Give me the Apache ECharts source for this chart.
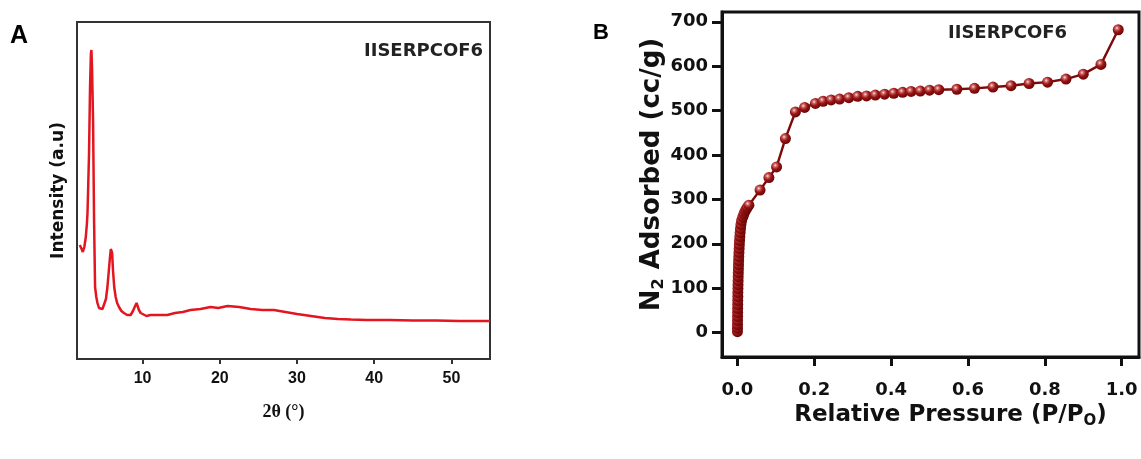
<!DOCTYPE html>
<html>
<head>
<meta charset="utf-8">
<script src="https://cdn.jsdelivr.net/npm/echarts@6/dist/echarts.min.js"></script>
<style>
  html, body { margin: 0; padding: 0; background: #fff; }
  #chart { width: 1141px; height: 459px; }
</style>
</head>
<body>
<div id="chart"></div>
<script>
// A: PXRD pattern (2θ in degrees, intensity in arbitrary units)
const xrdAngle = [1.86, 2.1, 2.25, 2.45, 2.64, 2.78, 2.86, 2.96, 3.06, 3.19, 3.3, 3.37, 3.45, 3.58, 3.71, 3.84, 4.0, 4.15, 4.35, 4.57,
  4.8, 5.0, 5.25, 5.44, 5.62, 5.74, 5.88, 5.96, 6.05, 6.16, 6.32, 6.51, 6.7, 6.94, 7.25, 7.58, 8.0, 8.45, 8.75, 8.97,
  9.22, 9.35, 9.52, 9.75, 9.96, 10.5, 11.0, 12.0, 13.2, 14.2, 15.2, 16.2, 17.5, 18.8, 19.8, 21.0, 22.5, 24.0, 25.5, 27.0,
  28.5, 30.0, 31.8, 33.6, 35.3, 37.0, 39.0, 42.0, 45.0, 48.0, 51.0, 55.0];
const xrdIntensity = [114, 110, 107, 112, 122, 135, 146, 175, 206, 272, 305, 309, 290, 239, 139, 72, 62, 56, 51, 49,
  50, 52, 60, 72, 88, 99, 110, 112, 106, 89, 72, 62, 56, 52, 48, 46, 44, 44, 48, 52,
  56, 54, 49, 46, 44, 43, 44, 44, 44, 46, 47, 49, 50, 52, 51, 53, 52, 50, 49, 49,
  47, 45, 43, 41, 40, 39.5, 39, 39, 38.5, 38.5, 38, 38];

// B: N2 adsorption isotherm (P/P0, cc/g)
const relPressure = [0.0002, 0.0003, 0.0004, 0.0005, 0.0006, 0.0007, 0.0008, 0.0009, 0.001, 0.0012, 0.0013, 0.0015, 0.0017, 0.0019,
  0.0021, 0.0024, 0.0027, 0.003, 0.0033, 0.0037, 0.0041, 0.0046, 0.0051, 0.0057, 0.0064, 0.0072, 0.0081, 0.0093, 0.011, 0.014,
  0.017, 0.02, 0.023, 0.026, 0.03, 0.059, 0.082, 0.102, 0.125, 0.151, 0.175, 0.203, 0.223, 0.244, 0.266, 0.29,
  0.313, 0.336, 0.359, 0.383, 0.407, 0.43, 0.452, 0.476, 0.5, 0.524, 0.571, 0.617, 0.665, 0.712, 0.759, 0.807,
  0.855, 0.9, 0.946, 0.991];
const adsorbed = [2, 10, 18, 27, 36, 45, 54, 63, 72, 81, 90, 99, 108, 117,
  126, 135, 144, 153, 162, 171, 180, 189, 198, 207, 216, 225, 234, 243, 252, 260,
  267, 273, 278, 282, 287, 321, 349, 373, 437, 497, 507, 516, 521, 524, 526, 529,
  532, 533, 535, 537, 539, 541, 543, 544, 546, 547, 548, 550, 553, 556, 561, 564,
  571, 582, 604, 682];

const xrdTicks = [10, 20, 30, 40, 50];
const pressureTicks = [0, 0.2, 0.4, 0.6, 0.8, 1.0];
const adsorbedTicks = [0, 100, 200, 300, 400, 500, 600, 700];
const sampleName = "IISERPCOF6";

const chart = echarts.init(document.getElementById("chart"));

// shaded ball markers
const ballColor = {
  type: "radial",
  x: 0.38,
  y: 0.35,
  r: 0.65,
  colorStops: [
    { offset: 0, color: "#fbe6e6" },
    { offset: 0.22, color: "#d06a6a" },
    { offset: 0.55, color: "#9a1414" },
    { offset: 1, color: "#6a0606" },
  ],
};

const option = {
  animation: false,
  grid: [
    { left: 77, top: 22, width: 413, height: 337, show: true, borderColor: "#333", borderWidth: 2, backgroundColor: "transparent" },
    { left: 722, top: 12, width: 417, height: 345, show: true, borderColor: "#111", borderWidth: 3, backgroundColor: "transparent" },
  ],
  xAxis: [
    {
      gridIndex: 0,
      type: "value",
      min: 1.5,
      max: 55,
      splitLine: { show: false },
      axisLine: { show: true, onZero: false, lineStyle: { color: "#333", width: 2 } },
      axisTick: { show: true, customValues: xrdTicks, length: 5, lineStyle: { color: "#333", width: 2 } },
      axisLabel: {
        customValues: xrdTicks,
        margin: 12,
        color: "#111",
        fontSize: 16,
        fontWeight: "bold",
        fontFamily: "Liberation Sans",
      },
      name: "2θ (°)",
      nameLocation: "middle",
      nameGap: 44,
      nameTextStyle: { color: "#111", fontSize: 18, fontWeight: "bold", fontFamily: "Liberation Serif" },
    },
    {
      gridIndex: 1,
      type: "value",
      min: -0.04,
      max: 1.045,
      splitLine: { show: false },
      axisLine: { show: true, onZero: false, lineStyle: { color: "#111", width: 3 } },
      axisTick: { show: true, customValues: pressureTicks, length: 9, lineStyle: { color: "#111", width: 3 } },
      axisLabel: {
        customValues: pressureTicks,
        formatter: (v) => v.toFixed(1),
        margin: 24,
        color: "#111",
        fontSize: 18,
        fontWeight: "bold",
        fontFamily: "DejaVu Sans",
      },
      name: "{m|Relative Pressure (P/P}{s|O}{m|)}",
      nameLocation: "middle",
      nameGap: 38,
      nameTextStyle: {
        padding: [0, 0, 0, 40],
        rich: {
          m: { color: "#111", fontSize: 23, fontWeight: "bold", fontFamily: "DejaVu Sans" },
          s: { color: "#111", fontSize: 15, fontWeight: "bold", fontFamily: "DejaVu Sans", padding: [12, 0, 0, 0] },
        },
      },
    },
  ],
  yAxis: [
    {
      gridIndex: 0,
      type: "value",
      min: 0,
      max: 337,
      splitLine: { show: false },
      axisLine: { show: true, onZero: false, lineStyle: { color: "#333", width: 2 } },
      axisTick: { show: false },
      axisLabel: { show: false },
      name: "Intensity (a.u)",
      nameLocation: "middle",
      nameGap: 10,
      nameTextStyle: { color: "#111", fontSize: 17, fontWeight: "bold", fontFamily: "DejaVu Sans", padding: [0, 0, 0, 0] },
    },
    {
      gridIndex: 1,
      type: "value",
      min: -55,
      max: 722,
      splitLine: { show: false },
      axisLine: { show: true, onZero: false, lineStyle: { color: "#111", width: 3 } },
      axisTick: { show: true, customValues: adsorbedTicks, length: 10, lineStyle: { color: "#111", width: 3 } },
      axisLabel: {
        customValues: adsorbedTicks,
        margin: 14,
        color: "#111",
        fontSize: 18,
        fontWeight: "bold",
        fontFamily: "DejaVu Sans",
      },
      name: "{m|N}{s|2}{m| Adsorbed (cc/g)}",
      nameLocation: "middle",
      nameGap: 55,
      nameTextStyle: {
        padding: [0, 0, 0, 20],
        rich: {
          m: { color: "#111", fontSize: 26, fontWeight: "bold", fontFamily: "DejaVu Sans" },
          s: { color: "#111", fontSize: 16, fontWeight: "bold", fontFamily: "DejaVu Sans", padding: [13, 0, 0, 0] },
        },
      },
    },
  ],
  graphic: [
    { type: "text", left: 10, top: 24, style: { text: "A", fontSize: 25, fontWeight: "bold", fontFamily: "Liberation Sans", fill: "#000" } },
    { type: "text", left: 593, top: 22, style: { text: "B", fontSize: 22, fontWeight: "bold", fontFamily: "Liberation Sans", fill: "#000" } },
    { type: "text", left: 364, top: 42, style: { text: sampleName, fontSize: 18, fontWeight: "bold", fontFamily: "DejaVu Sans", fill: "#222" } },
    { type: "text", left: 948, top: 24, style: { text: sampleName, fontSize: 18, fontWeight: "bold", fontFamily: "DejaVu Sans", fill: "#222" } },
  ],
  series: [
    {
      type: "line",
      xAxisIndex: 0,
      yAxisIndex: 0,
      data: xrdAngle.map((x, i) => [x, xrdIntensity[i]]),
      showSymbol: false,
      symbol: "none",
      lineStyle: { color: "#e3151f", width: 2.5 },
    },
    {
      type: "line",
      xAxisIndex: 1,
      yAxisIndex: 1,
      data: relPressure.map((x, i) => [x, adsorbed[i]]),
      symbol: "circle",
      symbolSize: 11,
      lineStyle: { color: "#7d0a0a", width: 2.4 },
      itemStyle: { color: ballColor, borderWidth: 0 },
    },
  ],
};

chart.setOption(option);
</script>
</body>
</html>
